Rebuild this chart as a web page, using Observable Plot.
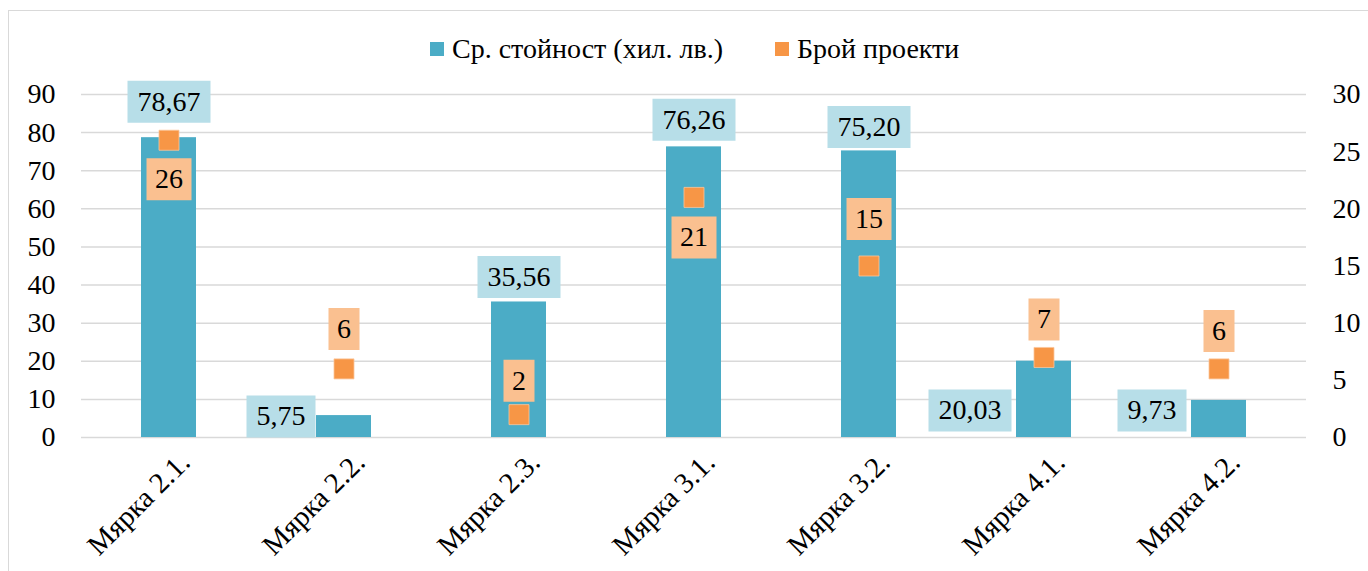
<!DOCTYPE html>
<html>
<head>
<meta charset="utf-8">
<script src="https://cdn.jsdelivr.net/npm/d3@7"></script>
<script src="https://cdn.jsdelivr.net/npm/@observablehq/plot@0.6"></script>
<style>
  html, body { margin: 0; padding: 0; background: #fff; overflow: hidden; }
  body { width: 1368px; height: 571px; position: relative; font-family: "Liberation Serif", "DejaVu Serif", serif; }
  #frame { position: absolute; left: 8px; top: 10px; width: 1500px; height: 700px;
           border-left: 1.5px solid #d9d9d9; border-top: 1.5px solid #d9d9d9; }
  #legend { position: absolute; left: 0; top: 30px; height: 38px; width: 1368px;
            font-size: 28px; color: #000; white-space: nowrap; }
  #legend .sw { display: inline-block; width: 14px; height: 14px; margin-right: 8px; }
  #legend .item { position: absolute; top: 0; height: 38px; display: flex; align-items: center; }
  #chart { position: absolute; left: 0; top: 81px; }
</style>
</head>
<body>
<div id="frame"></div>
<div id="legend"></div>
<div id="chart"></div>
<script>
// ---- data ----
const categories = ["Мярка 2.1.", "Мярка 2.2.", "Мярка 2.3.", "Мярка 3.1.", "Мярка 3.2.", "Мярка 4.1.", "Мярка 4.2."];
const avgValue = [78.67, 5.75, 35.56, 76.26, 75.20, 20.03, 9.73];   // Ср. стойност (хил. лв.)
const projectCount = [26, 6, 2, 21, 15, 7, 6];                        // Брой проекти
const seriesNames = ["Ср. стойност (хил. лв.)", "Брой проекти"];
const leftTicks = [0, 10, 20, 30, 40, 50, 60, 70, 80, 90];
const rightTicks = [0, 5, 10, 15, 20, 25, 30];

// ---- label layout (offsets in px) ----
const valueLabelAtBase = [false, true, false, false, false, true, true];
const valueLabelDx = [0, -63, 0, 0, 0, -74, -67];
const valueLabelDy = [-36, -21, -25, -27, -24, -27, -27];
const countLabelDy = [39, -40, -34, 40, -47, -38, -38];
const legendLeft = [430, 775];

// ---- styles ----
const FONT = "'Liberation Serif', 'DejaVu Serif', serif";
const FS = 28;
const barColor = "#4bacc6", dotColor = "#f79646";
const valueBox = "#b7dee8", countBox = "#fac090";
const ratio = 90 / 30; // right axis 0-30 mapped onto left 0-90

const rows = categories.map((c, i) => ({cat: c, value: avgValue[i], count: projectCount[i], i}));
const fmt = v => v.toFixed(2).replace(".", ",");

// legend
const legend = document.getElementById("legend");
[[seriesNames[0], barColor], [seriesNames[1], dotColor]].forEach(([name, col], k) => {
  const it = document.createElement("div");
  it.className = "item";
  it.style.left = legendLeft[k] + "px";
  it.innerHTML = `<span class="sw" style="background:${col}"></span><span>${name}</span>`;
  legend.appendChild(it);
});

// text measurement for label boxes
const ctx = document.createElement("canvas").getContext("2d");
ctx.font = `${FS}px ${FONT}`;
const textW = s => ctx.measureText(s).width;
const boxSymbol = (w, h) => ({draw(c) { c.rect(-w / 2, -h / 2, w, h); }});
const BOX_H = 42;

function labelMarks(d, text, y, dx, dy, boxFill, padX) {
  const w = textW(text) + 2 * padX;
  return [
    Plot.dot([d], {x: "cat", y, dx, dy, symbol: boxSymbol(w, BOX_H), r: 10, fill: boxFill, stroke: null}),
    Plot.text([d], {x: "cat", y, dx, dy, text: () => text, fill: "#000", fontSize: FS})
  ];
}

const valueLabelMarks = rows.flatMap((d, i) =>
  labelMarks(d, fmt(d.value), valueLabelAtBase[i] ? () => 0 : "value",
             valueLabelDx[i], valueLabelDy[i], valueBox, 10));
const countLabelMarks = rows.flatMap((d, i) =>
  labelMarks(d, String(d.count), r => r.count * ratio, 0, countLabelDy[i], countBox, 8.5));

const plot = Plot.plot({
  width: 1368,
  height: 490,
  marginLeft: 81,
  marginRight: 62,
  marginTop: 13,
  marginBottom: 134,
  style: {fontFamily: FONT, fontSize: FS + "px", color: "#000", background: "transparent", overflow: "visible"},
  x: {domain: categories, paddingInner: 0.686, paddingOuter: 0.343, align: 0.5},
  y: {domain: [0, 90]},
  marks: [
    Plot.gridY(leftTicks, {stroke: "#d9d9d9", strokeOpacity: 1, strokeWidth: 1.5}),
    Plot.axisY(leftTicks, {anchor: "left", tickSize: 0, tickPadding: 26, label: null, fontSize: FS}),
    Plot.axisY(rightTicks.map(t => t * ratio), {anchor: "right", tickSize: 0, tickPadding: 26, label: null,
      tickFormat: d => String(Math.round(d / ratio)), fontSize: FS}),
    Plot.axisX({tickRotate: -45, tickSize: 0, tickPadding: 20, dx: 16, label: null, fontSize: 29}),
    Plot.barY(rows, {x: "cat", y: "value", fill: barColor}),
    Plot.dot(rows, {x: "cat", y: r => r.count * ratio, symbol: "square", r: 11.3, fill: dotColor, stroke: "#fbc79c", strokeWidth: 0.8}),
    ...valueLabelMarks,
    ...countLabelMarks
  ]
});
document.getElementById("chart").appendChild(plot);
</script>
</body>
</html>
